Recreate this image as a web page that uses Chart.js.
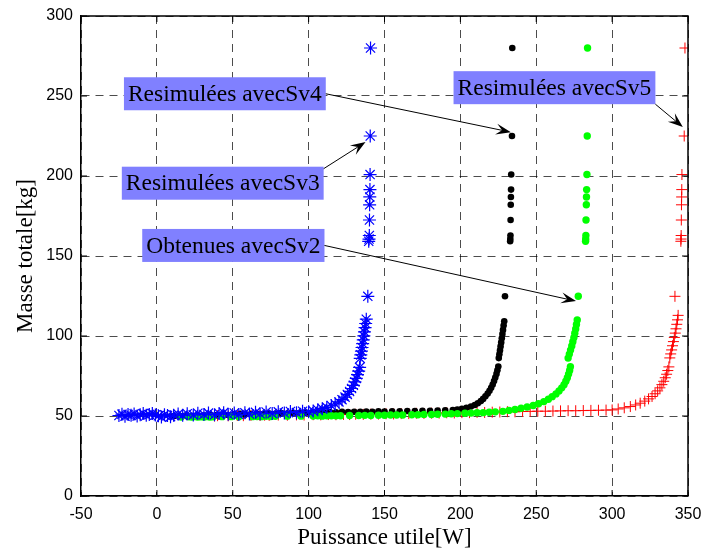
<!DOCTYPE html>
<html>
<head>
<meta charset="utf-8">
<script src="https://cdn.jsdelivr.net/npm/chart.js@4.4.1/dist/chart.umd.min.js"></script>
<style>
  body { margin: 0; background: #fff; }
</style>
</head>
<body>
<canvas id="scatter-chart" width="704" height="552"></canvas>
<script>
// Resimulées avec Sv3 (blue stars)
const sv3 = [
  [-25,50.3],[-23,51.1],[-21,49.9],[-19,50.9],[-17,50.4],[-15,51.3],[-13,50.0],[-11,50.8],[-9,51.5],[-7,50.5],
  [-5,51.0],[-3,51.6],[-1,50.6],[1,50.1],[3,49.3],[5,50.8],[7,50.3],[9,49.6],[11,50.5],[14,51.2],
  [17,50.4],[20,51.4],[24,50.7],[27,51.7],[31,50.9],[34,51.8],[38,50.8],[41,51.5],[44,52.1],[47,51.1],
  [51,51.9],[54,50.9],[58,52.0],[61,51.2],[65,52.3],[68,51.4],[72,52.5],[76,51.6],[80,52.6],[84,51.9],
  [88,52.8],[92,52.1],[96,53.0],
  [100,52.6],[103,53.2],[106,53.9],[109,54.6],[112,55.4],[115,56.4],[117.5,57.5],[120,58.8],[122,60.2],[124,61.8],
  [125.5,63.5],[127,65.3],[128.3,67.2],[129.5,69.2],[130.5,71.3],[131.4,73.5],[132.2,75.8],[133,78.1],[133.6,80.4],
  [134,86.0],[134.4,88.2],[134.8,90.5],[135.2,92.8],[135.6,95.2],[136,97.6],[136.4,100.1],[136.8,102.6],[137.2,105.2],
  [137.6,107.8],[138,110.5],[139,124.8],
  [139.6,159.2],[139.8,160.6],[140,162.8],[140.1,172.5],[140.2,182.0],[140.3,186.9],[140.4,191.5],[140.5,200.9],[140.6,225],[140.8,280]
];

// Obtenues avec Sv2 (green dots)
const sv2 = [
  [16,49.4],[21,49.5],[23,49.3],[25,49.6],[27,49.4],[29,49.5],[31,49.3],[33,49.6],[35,49.4],[37,49.5],
  [43,49.6],[49,49.6],[54,49.5],[63,49.6],[66,49.7],[69,49.6],[72,49.8],[75,49.7],[78,49.8],[86,49.9],
  [95,49.9],[103,50.0],[106,50.1],[109,49.9],[112,50.1],[115,50.2],[118,50.1],[121,50.2],[127,50.3],[133,50.3],
  [137,50.4],[141,50.3],[146,50.5],[150,50.5],[154,50.6],[158,50.6],[162,50.6],[168,50.8],[172,50.8],[176,51.0],
  [181,50.9],[185,51.1],[190,51.2],[194,51.4],[198,51.5],[203,51.7],[207,51.8],[211,52.0],[215,52.1],[219,52.3],
  [223,52.6],
  [228,52.9],[232,53.5],[236,54.1],[240,54.8],[244,55.6],[248,56.6],[251.5,57.7],[255,59.0],[258,60.5],[260.5,62.1],
  [263,63.8],[265,65.7],[266.8,67.6],[268.3,69.6],[269.5,71.7],[270.5,73.9],[271.3,76.2],[272,78.5],[272.5,80.8],
  [271,86.2],[271.8,88.7],[272.6,91.2],[273.4,93.8],[274.1,96.4],[274.8,99.0],[275.4,101.7],[276,104.4],[276.5,107.2],
  [277,110.0],[277.7,124.8],
  [282.5,159.2],[282.6,160.6],[282.7,162.8],[282.8,172.5],[283,182.0],[283.1,186.9],[283.2,191.5],[283.4,200.9],[283.6,225],[283.8,280]
];

// Resimulées avec Sv4 (black dots)
const sv4 = [
  [11,49.9],[15,50.1],[19,50.3],[23,50.0],[27,50.4],[31,50.3],[35,50.7],[39,50.4],[43,50.8],[47,50.6],
  [51,51.0],[55,51.3],[58,50.9],[62,51.2],[66,51.4],[70,51.2],[74,51.6],[78,51.4],[82,51.8],[86,51.6],
  [90,51.9],[94,51.8],[98,52.1],[102,52.0],[106,52.3],[110,52.1],[114,52.4],[118,52.3],[122,52.6],[126,52.4],
  [130,52.7],[134,52.6],[138,52.8],[142,52.7],[146,52.9],[150,52.8],[155,53.0],[160,52.9],[165,53.1],[170,53.1],
  [175,53.3],[180,53.2],[185,53.4],[190,53.5],
  [195,53.7],[198,54.0],[201,54.5],[204,55.1],[207,55.9],[209.5,56.9],[211.5,58.0],[213.5,59.3],[215,60.7],[216.5,62.3],
  [218,64.0],[219.2,65.8],[220.3,67.7],[221.3,69.7],[222.2,71.8],[223,74.0],[223.8,76.3],[224.4,78.6],[225,80.9],
  [225.3,86.2],[225.7,88.6],[226.1,91.0],[226.5,93.5],[226.9,96.0],[227.3,98.6],[227.7,101.2],[228.1,103.8],[228.5,106.5],
  [228.9,109.2],[229.4,124.8],
  [232.8,159.2],[232.9,160.6],[233,162.8],[233.1,172.5],[233.2,182.0],[233.3,186.9],[233.4,191.5],[233.5,200.9],[234,225],[234.2,280]
];

// Resimulées avec Sv5 (red crosses)
const sv5 = [
  [38,50.0],[40,50.2],[47,50.1],[53,50.3],[57,50.2],[62,50.4],[68,50.3],[71,50.5],[74,50.4],[80,50.6],
  [86,50.5],[92,50.7],[97,50.6],[103,50.8],[108,50.7],[113,50.9],[118,50.8],[123,51.0],[127,50.9],[131,51.1],
  [136,51.0],[141,51.2],[146,51.2],[151,51.4],[156,51.3],[161,51.5],[166,51.5],[171,51.7],[176,51.6],[181,51.8],
  [186,51.8],[191,52.0],[196,51.9],[201,52.1],[206,52.1],[211,52.3],[216,52.2],[221,52.4],[226,52.5],[231,52.7],
  [236,52.6],[241,52.8],[246,52.9],[251,53.0],[256,53.0],[261,53.1],[266,53.2],[271,53.3],[276,53.3],[281,53.4],
  [286,53.5],[291,53.6],[296,53.7],
  [300,53.8],[304,54.4],[308,55.1],[312,55.9],[315.5,56.9],[318.5,58.0],[321.5,59.3],[324,60.7],[326.3,62.2],[328.3,63.9],
  [330,65.7],[331.5,67.6],[332.8,69.6],[334,71.7],[335,73.9],[335.9,76.1],[336.7,78.4],[337.4,80.7],
  [338,86.3],[338.6,88.8],[339.2,91.3],[339.8,93.9],[340.4,96.5],[341,99.1],[341.6,101.8],[342.1,104.5],[342.6,107.3],
  [343.1,110.1],[343.5,112.9],[341.4,124.8],
  [345.3,159.2],[345.4,160.6],[345.5,162.8],[345.6,172.5],[345.7,182.0],[345.8,186.9],[345.9,191.5],[346,200.9],[347.5,225],[348,280]
];

// text boxes, placed in data units, with arrow target
const notes = [
  {text: "Resimulées avecSv4", x: 44.8, y: 251.4, from: "right", tx: 233.3, ty: 227.4},
  {text: "Resimulées avecSv3", x: 43.4, y: 195.5, from: "topright", tx: 137.5, ty: 221.2},
  {text: "Resimulées avecSv5", x: 262, y: 255.2, from: "bottomright", tx: 346.6, ty: 230.6},
  {text: "Obtenues avecSv2", x: 50.4, y: 156.6, from: "right", tx: 276.2, ty: 121.8}
];

const toPts = arr => arr.map(p => ({x: p[0], y: p[1]}));

const boxPlugin = {
  id: "boxAndNotes",
  afterDraw(chart) {
    const ctx = chart.ctx;
    const a = chart.chartArea;
    const xs = chart.scales.x, ys = chart.scales.y;
    ctx.save();
    // top / right frame
    ctx.strokeStyle = "#000";
    ctx.lineWidth = 1.5;
    ctx.beginPath();
    ctx.moveTo(a.left, a.top); ctx.lineTo(a.right, a.top); ctx.lineTo(a.right, a.bottom);
    ctx.stroke();
    // inward ticks
    ctx.lineWidth = 1;
    ctx.beginPath();
    xs.ticks.forEach(t => {
      const px = xs.getPixelForValue(t.value);
      ctx.moveTo(px, a.bottom); ctx.lineTo(px, a.bottom - 6);
      ctx.moveTo(px, a.top); ctx.lineTo(px, a.top + 6);
    });
    ys.ticks.forEach(t => {
      const py = ys.getPixelForValue(t.value);
      ctx.moveTo(a.left, py); ctx.lineTo(a.left + 6, py);
      ctx.moveTo(a.right, py); ctx.lineTo(a.right - 6, py);
    });
    ctx.stroke();

    // annotations
    ctx.font = '23.5px "Liberation Serif", "Times New Roman", serif';
    ctx.textBaseline = "middle";
    ctx.textAlign = "center";
    notes.forEach(n => {
      const cx = xs.getPixelForValue(n.x), cy = ys.getPixelForValue(n.y);
      const w = ctx.measureText(n.text).width + 8, h = 33;
      const l = cx - w / 2, t = cy - h / 2;
      ctx.fillStyle = "#8080ff";
      ctx.fillRect(l, t, w, h);
      ctx.fillStyle = "#000";
      ctx.fillText(n.text, cx, cy + 1);

      let sx = l + w, sy = cy;
      if (n.from === "topright") sy = t + 2;
      if (n.from === "bottomright") sy = t + h;
      const ex = xs.getPixelForValue(n.tx), ey = ys.getPixelForValue(n.ty);
      const len = Math.hypot(ex - sx, ey - sy);
      const dx = (ex - sx) / len, dy = (ey - sy) / len;
      const L = 15, W = 11;
      const bx = ex - dx * L, by = ey - dy * L;
      const ix = ex - dx * L * 0.6, iy = ey - dy * L * 0.6;
      ctx.strokeStyle = "#000";
      ctx.lineWidth = 1;
      ctx.beginPath();
      ctx.moveTo(sx, sy); ctx.lineTo(ix, iy);
      ctx.stroke();
      ctx.beginPath();
      ctx.moveTo(ex, ey);
      ctx.lineTo(bx - dy * W / 2, by + dx * W / 2);
      ctx.lineTo(ix, iy);
      ctx.lineTo(bx + dy * W / 2, by - dx * W / 2);
      ctx.closePath();
      ctx.fill();
    });
    ctx.restore();
  }
};

new Chart(document.getElementById("scatter-chart"), {
  type: "scatter",
  data: {
    datasets: [
      {label: "Sv3", data: toPts(sv3), pointStyle: "star", radius: 6.5, borderColor: "#0000ff", backgroundColor: "#0000ff", borderWidth: 1.2},
      {label: "Sv2", data: toPts(sv2), pointStyle: "circle", radius: 3.7, borderWidth: 0, backgroundColor: "#00ff00"},
      {label: "Sv4", data: toPts(sv4), pointStyle: "circle", radius: 3.3, borderWidth: 0, backgroundColor: "#000000"},
      {label: "Sv5", data: toPts(sv5), pointStyle: "cross", radius: 5.5, borderColor: "#ff0000", backgroundColor: "#ff0000", borderWidth: 1}
    ]
  },
  options: {
    responsive: false,
    animation: false,
    events: [],
    layout: {
      padding: {left: 0, right: 16, top: 16, bottom: 0}
    },
    plugins: {
      legend: {display: false},
      tooltip: {enabled: false}
    },
    scales: {
      x: {
        type: "linear",
        min: -50,
        max: 350,
        afterFit: s => { s.height = 56; s.paddingLeft = 0; s.paddingRight = 0; },
        ticks: {
          stepSize: 50,
          color: "#000",
          padding: 9,
          font: {family: '"Liberation Sans", Arial', size: 16}
        },
        grid: {color: "rgba(0,0,0,0.7)", drawTicks: false, lineWidth: 1},
        border: {display: true, color: "#000", width: 1.5, dash: [8, 6]},
        title: {
          display: true,
          text: "Puissance utile[W]",
          color: "#000",
          padding: {top: 0, bottom: 0},
          font: {family: '"Liberation Serif", "Times New Roman", serif', size: 23}
        }
      },
      y: {
        min: 0,
        max: 300,
        afterFit: s => { s.width = 81; s.paddingTop = 0; s.paddingBottom = 0; },
        ticks: {
          stepSize: 50,
          color: "#000",
          padding: 8,
          font: {family: '"Liberation Sans", Arial', size: 16}
        },
        grid: {color: "rgba(0,0,0,0.7)", drawTicks: false, lineWidth: 1},
        border: {display: true, color: "#000", width: 1.5, dash: [8, 6]},
        title: {
          display: true,
          text: "Masse totale[kg]",
          color: "#000",
          padding: {top: 12, bottom: 0},
          font: {family: '"Liberation Serif", "Times New Roman", serif', size: 23}
        }
      }
    }
  },
  plugins: [boxPlugin]
});
</script>
</body>
</html>
